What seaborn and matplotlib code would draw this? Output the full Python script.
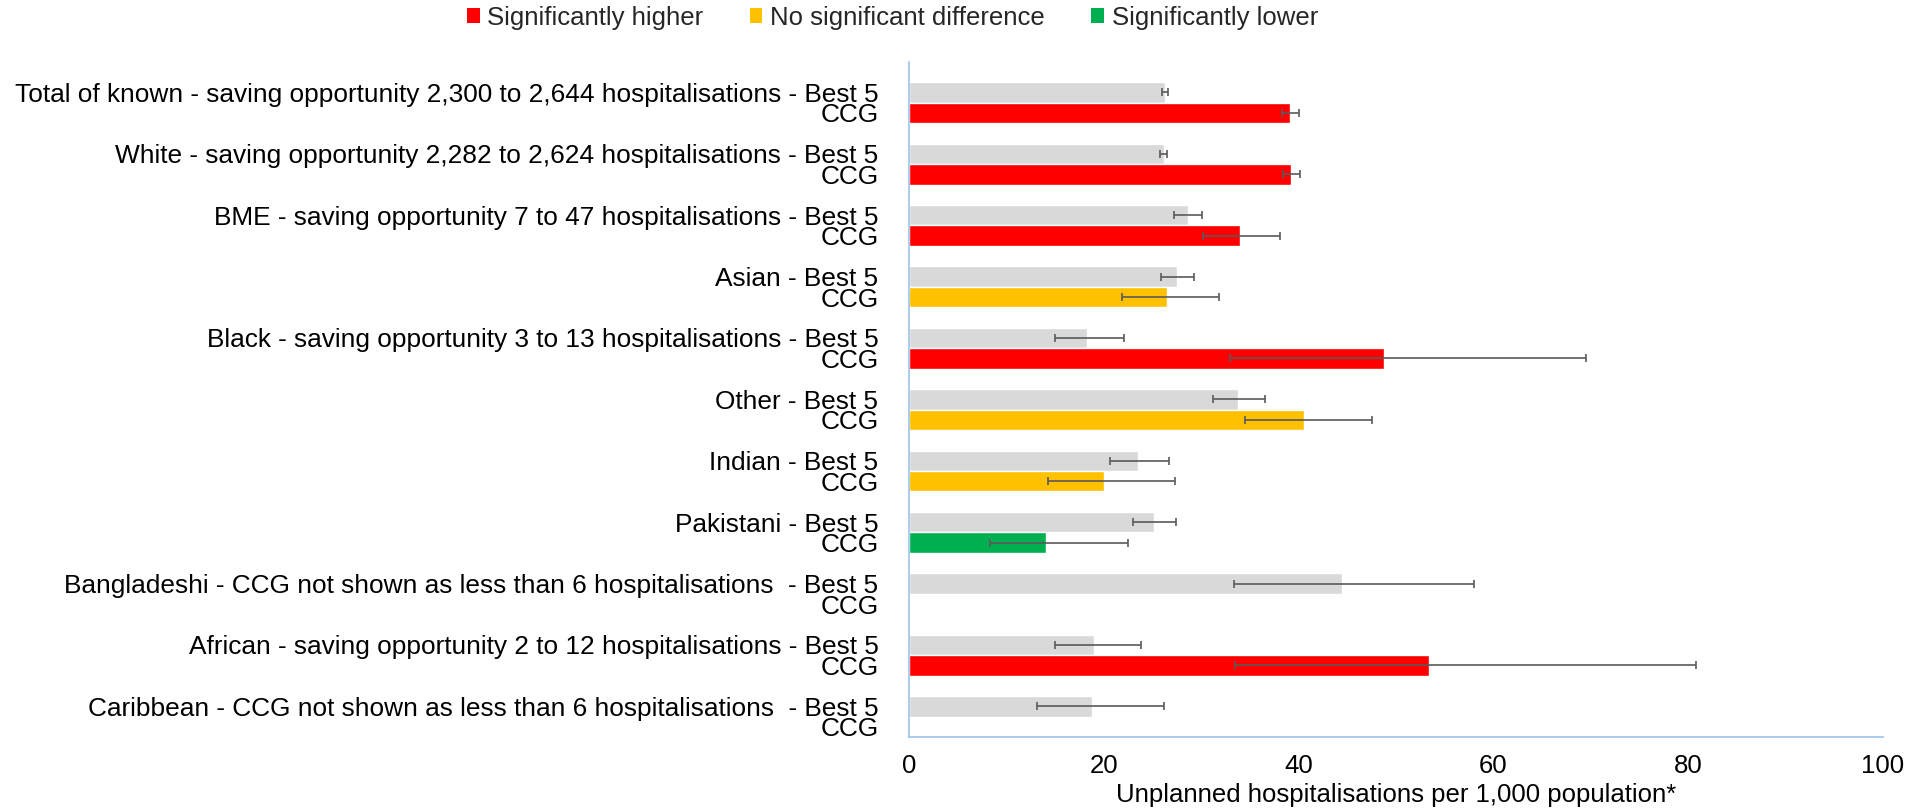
import numpy as np
import pandas as pd
import matplotlib
matplotlib.use("Agg")
import matplotlib.pyplot as plt
from matplotlib.patches import Patch
import seaborn as sns

groups = [
    "Total of known - saving opportunity 2,300 to 2,644 hospitalisations",
    "White - saving opportunity 2,282 to 2,624 hospitalisations",
    "BME - saving opportunity 7 to 47 hospitalisations",
    "Asian",
    "Black - saving opportunity 3 to 13 hospitalisations",
    "Other",
    "Indian",
    "Pakistani",
    "Bangladeshi - CCG not shown as less than 6 hospitalisations ",
    "African - saving opportunity 2 to 12 hospitalisations",
    "Caribbean - CCG not shown as less than 6 hospitalisations ",
]
best5 = [26.3, 26.15, 28.6, 27.5, 18.3, 33.75, 23.5, 25.15, 44.45, 19.0, 18.8]
best5_lo = [25.95, 25.8, 27.25, 25.9, 15.0, 31.2, 20.6, 23.0, 33.4, 15.0, 13.1]
best5_hi = [26.6, 26.5, 30.05, 29.3, 22.1, 36.55, 26.7, 27.4, 58.0, 23.8, 26.2]
ccg = [39.1, 39.25, 34.0, 26.5, 48.8, 40.6, 20.0, 14.1, np.nan, 53.4, np.nan]
ccg_lo = [38.3, 38.4, 30.2, 21.9, 33.0, 34.5, 14.25, 8.3, np.nan, 33.5, np.nan]
ccg_hi = [40.0, 40.1, 38.1, 31.8, 69.5, 47.5, 27.35, 22.45, np.nan, 80.8, np.nan]
significance = [
    "Significantly higher", "Significantly higher", "Significantly higher",
    "No significant difference", "Significantly higher",
    "No significant difference", "No significant difference",
    "Significantly lower", None, "Significantly higher", None,
]
legend_labels = ["Significantly higher", "No significant difference", "Significantly lower"]
xlabel = "Unplanned hospitalisations per 1,000 population*"

palette = {
    "Best 5": "#D9D9D9",
    "Significantly higher": "#FF0000",
    "No significant difference": "#FFC000",
    "Significantly lower": "#00B050",
}

# build table
rows = []
order = []
tick_labels = []
for i, g in enumerate(groups):
    order += [f"gap{i}", f"best{i}", f"ccg{i}"]
    tick_labels += ["", f"{g} - Best 5", "CCG"]
    rows.append({"key": f"best{i}", "value": best5[i], "cat": "Best 5"})
    if not np.isnan(ccg[i]):
        rows.append({"key": f"ccg{i}", "value": ccg[i], "cat": significance[i]})
df = pd.DataFrame(rows)

sns.set_theme(style="white")
plt.rcParams["font.family"] = ["Liberation Sans", "DejaVu Sans"]

FS = 18.5

fig = plt.figure(figsize=(19.19, 8.10), dpi=100)
ax = fig.add_axes([0.4737, 0.0901, 0.9812 - 0.4737, 0.9238 - 0.0901])

sns.barplot(data=df, y="key", x="value", hue="cat", order=order, palette=palette,
            width=1.0, dodge=False, orient="h", errorbar=None, saturation=1,
            legend=False, ax=ax)

# error bars
pos = {k: i for i, k in enumerate(order)}
ey, ex, elo, ehi = [], [], [], []
for i in range(len(groups)):
    ey.append(pos[f"best{i}"]); ex.append(best5[i])
    elo.append(best5[i] - best5_lo[i]); ehi.append(best5_hi[i] - best5[i])
    if not np.isnan(ccg[i]):
        ey.append(pos[f"ccg{i}"]); ex.append(ccg[i])
        elo.append(ccg[i] - ccg_lo[i]); ehi.append(ccg_hi[i] - ccg[i])
ax.errorbar(ex, ey, xerr=[elo, ehi], fmt="none", ecolor="#5A5A5A",
            elinewidth=1.2, capsize=3, capthick=1.2, zorder=5)

ax.set_xlim(0, 100)
ax.set_ylim(len(order) - 0.5, -0.5)
ax.set_xticks(np.arange(0, 101, 20))
ax.set_yticks(range(len(order)))
ax.set_yticklabels(tick_labels, fontsize=18.9, color="#000000")
ax.tick_params(axis="y", length=0, pad=22)
ax.tick_params(axis="x", direction="out", length=6, width=1, color="#9DC3E6",
               labelsize=FS, labelcolor="#000000", pad=6)
ax.set_xlabel(xlabel, fontsize=FS, color="#000000", labelpad=4)
ax.set_ylabel("")
for s in ["top", "right"]:
    ax.spines[s].set_visible(False)
for s in ["left", "bottom"]:
    ax.spines[s].set_color("#9DC3E6")
    ax.spines[s].set_linewidth(1.2)
ax.grid(False)

handles = [Patch(facecolor=palette[l], edgecolor="none", label=l) for l in legend_labels]
fig.legend(handles=handles, loc="center", bbox_to_anchor=(0.465, 0.978), ncol=3,
           frameon=False, fontsize=FS, handlelength=0.5, handleheight=0.5,
           handletextpad=0.3, columnspacing=1.8)

fig.savefig("out.png", dpi=100, facecolor="white")
